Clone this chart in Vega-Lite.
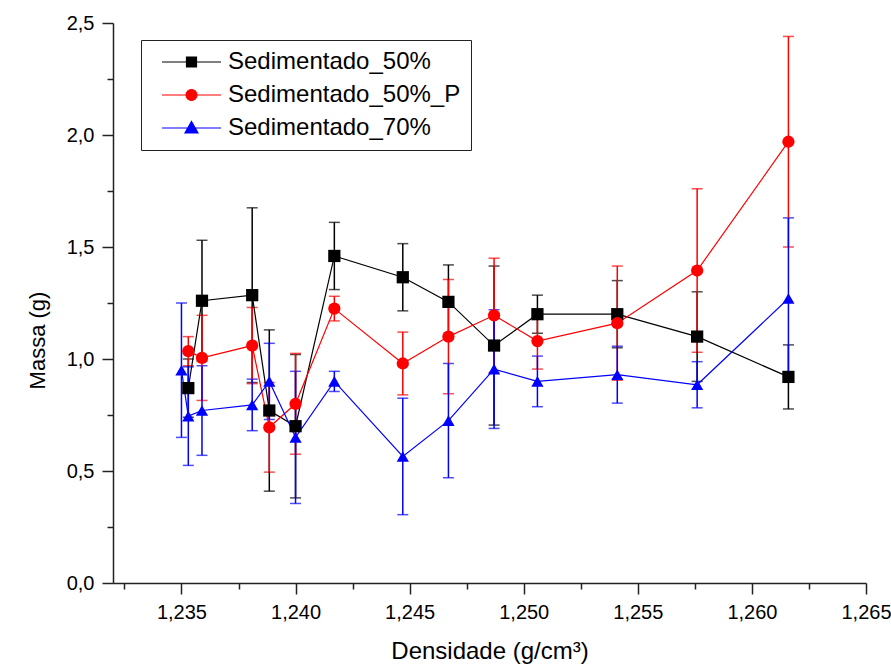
{
  "$schema": "https://vega.github.io/schema/vega-lite/v6.json",
  "width": 753,
  "height": 560,
  "autosize": {"type": "none"},
  "padding": {"left": 113, "top": 23, "right": 25, "bottom": 87},
  "background": "white",
  "config": {
    "view": {"stroke": null},
    "font": "Liberation Sans"
  },
  "data": {
    "values": [
      {"serie": "Sedimentado_50%", "densidade": 1.2353, "massa": 0.87, "erro": 0.13},
      {"serie": "Sedimentado_50%", "densidade": 1.2359, "massa": 1.26, "erro": 0.27},
      {"serie": "Sedimentado_50%", "densidade": 1.2381, "massa": 1.285, "erro": 0.39},
      {"serie": "Sedimentado_50%", "densidade": 1.23885, "massa": 0.77, "erro": 0.36},
      {"serie": "Sedimentado_50%", "densidade": 1.2400, "massa": 0.70, "erro": 0.32},
      {"serie": "Sedimentado_50%", "densidade": 1.2417, "massa": 1.46, "erro": 0.15},
      {"serie": "Sedimentado_50%", "densidade": 1.2447, "massa": 1.365, "erro": 0.15},
      {"serie": "Sedimentado_50%", "densidade": 1.2467, "massa": 1.255, "erro": 0.165},
      {"serie": "Sedimentado_50%", "densidade": 1.2487, "massa": 1.06, "erro": 0.355},
      {"serie": "Sedimentado_50%", "densidade": 1.2506, "massa": 1.20, "erro": 0.085},
      {"serie": "Sedimentado_50%", "densidade": 1.2541, "massa": 1.20, "erro": 0.15},
      {"serie": "Sedimentado_50%", "densidade": 1.2576, "massa": 1.10, "erro": 0.20},
      {"serie": "Sedimentado_50%", "densidade": 1.2616, "massa": 0.92, "erro": 0.143},

      {"serie": "Sedimentado_50%_P", "densidade": 1.2353, "massa": 1.035, "erro": 0.065},
      {"serie": "Sedimentado_50%_P", "densidade": 1.2359, "massa": 1.005, "erro": 0.19},
      {"serie": "Sedimentado_50%_P", "densidade": 1.2381, "massa": 1.06, "erro": 0.17},
      {"serie": "Sedimentado_50%_P", "densidade": 1.23885, "massa": 0.695, "erro": 0.20},
      {"serie": "Sedimentado_50%_P", "densidade": 1.2400, "massa": 0.80, "erro": 0.225},
      {"serie": "Sedimentado_50%_P", "densidade": 1.2417, "massa": 1.225, "erro": 0.055},
      {"serie": "Sedimentado_50%_P", "densidade": 1.2447, "massa": 0.98, "erro": 0.14},
      {"serie": "Sedimentado_50%_P", "densidade": 1.2467, "massa": 1.10, "erro": 0.255},
      {"serie": "Sedimentado_50%_P", "densidade": 1.2487, "massa": 1.195, "erro": 0.255},
      {"serie": "Sedimentado_50%_P", "densidade": 1.2506, "massa": 1.08, "erro": 0.125},
      {"serie": "Sedimentado_50%_P", "densidade": 1.2541, "massa": 1.16, "erro": 0.255},
      {"serie": "Sedimentado_50%_P", "densidade": 1.2576, "massa": 1.395, "erro": 0.365},
      {"serie": "Sedimentado_50%_P", "densidade": 1.2616, "massa": 1.97, "erro": 0.47},

      {"serie": "Sedimentado_70%", "densidade": 1.2350, "massa": 0.95, "erro": 0.30},
      {"serie": "Sedimentado_70%", "densidade": 1.2353, "massa": 0.745, "erro": 0.22},
      {"serie": "Sedimentado_70%", "densidade": 1.2359, "massa": 0.77, "erro": 0.20},
      {"serie": "Sedimentado_70%", "densidade": 1.2381, "massa": 0.795, "erro": 0.115},
      {"serie": "Sedimentado_70%", "densidade": 1.23885, "massa": 0.90, "erro": 0.17},
      {"serie": "Sedimentado_70%", "densidade": 1.2400, "massa": 0.65, "erro": 0.295},
      {"serie": "Sedimentado_70%", "densidade": 1.2417, "massa": 0.90, "erro": 0.045},
      {"serie": "Sedimentado_70%", "densidade": 1.2447, "massa": 0.565, "erro": 0.26},
      {"serie": "Sedimentado_70%", "densidade": 1.2467, "massa": 0.725, "erro": 0.255},
      {"serie": "Sedimentado_70%", "densidade": 1.2487, "massa": 0.955, "erro": 0.265},
      {"serie": "Sedimentado_70%", "densidade": 1.2506, "massa": 0.90, "erro": 0.113},
      {"serie": "Sedimentado_70%", "densidade": 1.2541, "massa": 0.93, "erro": 0.127},
      {"serie": "Sedimentado_70%", "densidade": 1.2576, "massa": 0.885, "erro": 0.103},
      {"serie": "Sedimentado_70%", "densidade": 1.2616, "massa": 1.27, "erro": 0.36}
    ]
  },
  "encoding": {
    "x": {
      "field": "densidade",
      "type": "quantitative",
      "scale": {"domain": [1.232, 1.265], "nice": false, "zero": false},
      "axis": {
        "title": "Densidade (g/cm³)",
        "titleFont": "Liberation Sans",
        "titleFontSize": 24,
        "titleFontWeight": "normal",
        "titleColor": "black",
        "titlePadding": 17,
        "values": [1.2325, 1.235, 1.2375, 1.24, 1.2425, 1.245, 1.2475, 1.25, 1.2525, 1.255, 1.2575, 1.26, 1.2625, 1.265],
        "labelExpr": "round(datum.value * 10000) % 50 == 0 ? replace(format(datum.value, '.3f'), '.', ',') : ''",
        "labelFont": "Liberation Sans",
        "labelFontSize": 20,
        "labelColor": "black",
        "labelPadding": 8,
        "labelFlush": false,
        "labelOverlap": false,
        "tickSize": {"condition": {"test": "round(datum.value * 10000) % 50 == 0", "value": 11}, "value": 6},
        "tickWidth": 1.5,
        "tickColor": "#222",
        "domainColor": "#222",
        "domainWidth": 1.5,
        "grid": false
      }
    },
    "y": {
      "field": "massa",
      "type": "quantitative",
      "scale": {"domain": [0, 2.5], "nice": false},
      "axis": {
        "title": "Massa (g)",
        "titleFont": "Liberation Sans",
        "titleFontSize": 22,
        "titleFontWeight": "normal",
        "titleColor": "black",
        "titleX": -76,
        "titleY": 317,
        "titleBaseline": "middle",
        "titleAngle": 270,
        "titleAlign": "center",
        "values": [0, 0.25, 0.5, 0.75, 1, 1.25, 1.5, 1.75, 2, 2.25, 2.5],
        "labelExpr": "datum.value % 0.5 == 0 ? replace(format(datum.value, '.1f'), '.', ',') : ''",
        "labelFont": "Liberation Sans",
        "labelFontSize": 20,
        "labelColor": "black",
        "labelPadding": 8,
        "labelFlush": false,
        "labelOverlap": false,
        "tickSize": {"condition": {"test": "datum.value % 0.5 == 0", "value": 11}, "value": 6},
        "tickWidth": 1.5,
        "tickColor": "#222",
        "domainColor": "#222",
        "domainWidth": 1.5,
        "grid": false
      }
    },
    "color": {
      "field": "serie",
      "type": "nominal",
      "scale": {
        "domain": ["Sedimentado_50%", "Sedimentado_50%_P", "Sedimentado_70%"],
        "range": ["#000000", "#ff0000", "#0000ff"]
      },
      "legend": {
        "title": null,
        "orient": "none",
        "legendX": 28,
        "legendY": 17,
        "labelFont": "Liberation Sans",
        "labelFontSize": 24,
        "labelColor": "black",
        "labelOffset": 53,
        "labelLimit": 400,
        "symbolSize": 400,
        "symbolStrokeWidth": 1.2,
        "rowPadding": 9,
        "padding": 10,
        "strokeColor": "#222",
        "fillColor": "white",
        "encode": {
          "symbols": {
            "update": {
              "shape": {"signal": "datum.value == 'Sedimentado_50%' ? 'M-0.1,0H5.8M2.35,-0.5H3.35V0.5H2.35Z' : datum.value == 'Sedimentado_50%_P' ? 'M-0.1,0H5.8M2.3,0A0.55,0.55 0 1,0 3.4,0A0.55,0.55 0 1,0 2.3,0Z' : 'M-0.1,0H5.8M2.85,-0.65L3.5,0.5H2.2Z'"},
              "stroke": {"signal": "scale('color', datum.value)"},
              "fill": {"signal": "scale('color', datum.value)"},
              "strokeWidth": {"value": 1.2},
              "opacity": {"value": 1}
            }
          }
        }
      }
    }
  },
  "layer": [
    {
      "mark": {"type": "errorbar", "ticks": {"size": 11}, "thickness": 1.5},
      "encoding": {
        "yError": {"field": "erro"}
      }
    },
    {
      "mark": {"type": "line", "strokeWidth": 1.2}
    },
    {
      "mark": {"type": "point", "filled": true, "opacity": 1, "size": 150},
      "encoding": {
        "shape": {
          "field": "serie",
          "type": "nominal",
          "scale": {
            "domain": ["Sedimentado_70%", "Sedimentado_50%", "Sedimentado_50%_P"],
            "range": ["triangle-up", "square", "circle"]
          },
          "legend": null
        }
      }
    }
  ]
}
